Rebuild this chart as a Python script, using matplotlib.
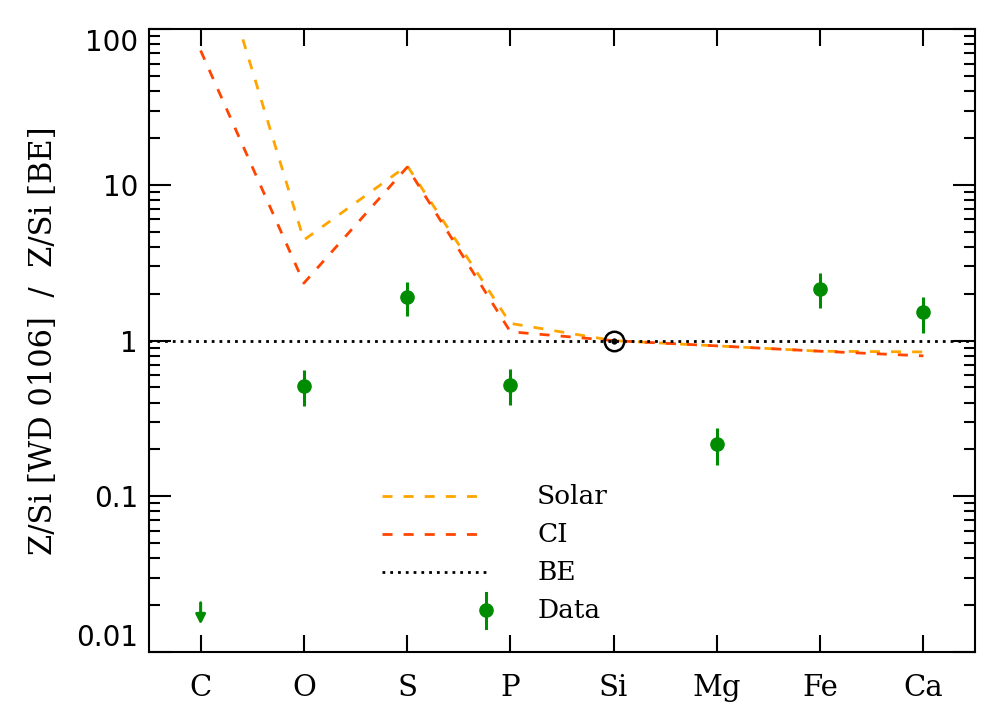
import numpy as np
import matplotlib
matplotlib.use("Agg")
import matplotlib.pyplot as plt
from matplotlib.ticker import LogLocator, FixedLocator, NullFormatter

# --- Data ---
elements = ["C", "O", "S", "P", "Si", "Mg", "Fe", "Ca"]
solar = [670, 4.43, 13.3, 1.29, 1.0, 0.925, 0.855, 0.846]
ci = [73, 2.34, 13.0, 1.14, 1.0, 0.925, 0.855, 0.798]

data_idx = [1, 2, 3, 5, 6, 7]
data_val = [0.514, 1.92, 0.522, 0.217, 2.16, 1.52]
data_hi = [0.65, 2.39, 0.658, 0.274, 2.71, 1.91]
data_lo = [0.38, 1.43, 0.386, 0.160, 1.61, 1.125]

c_limit = 0.0207    # upper limit for C
c_arrow = 0.0150    # arrow head
si_ref = 1.0

ORANGE = "#FFA500"
RED = "#FF4500"
GREEN = "#008C00"
SERIF = "DejaVu Serif"
DASH = (3.6, 4.0)
DOT = (1.0, 1.8)

x = np.arange(len(elements))

fig = plt.figure(figsize=(9.96, 7.12), dpi=100)
ax = fig.add_axes([0.1496, 0.0843, 0.8293, 0.8746])

# model lines
ax.plot(x, solar, color=ORANGE, lw=2.0, dashes=DASH)
ax.plot(x, ci, color=RED, lw=2.0, dashes=DASH)
ax.axhline(1.0, color="black", lw=2.0, dashes=DOT)

# data with error bars
dv = np.array(data_val)
yerr = [dv - np.array(data_lo), np.array(data_hi) - dv]
ax.errorbar(x[data_idx], dv, yerr=yerr, fmt="o", color=GREEN, ms=9.5,
            elinewidth=2.2, capsize=0, zorder=5)

# upper limit on C
ax.annotate("", xy=(x[0], c_arrow), xytext=(x[0], c_limit),
            arrowprops=dict(arrowstyle="-|>", color=GREEN, lw=2.2,
                            mutation_scale=14, shrinkA=0, shrinkB=0))

# Si reference (sun symbol)
ax.plot(x[4], si_ref, "o", ms=14, mfc="none", mec="black", mew=1.8, zorder=6)
ax.plot(x[4], si_ref, "o", ms=3.5, color="black", zorder=6)

ax.set_yscale("log")
ax.set_ylim(0.01, 100)
ax.set_xlim(-0.5, len(elements) - 0.5)

ax.xaxis.set_major_locator(FixedLocator(x))
ax.set_xticklabels(elements, fontsize=21, family=SERIF)
ax.yaxis.set_minor_locator(LogLocator(base=10, subs=np.arange(2, 10), numticks=10))
ax.yaxis.set_minor_formatter(NullFormatter())
ax.set_yticks([0.01, 0.1, 1, 10, 100])
ax.set_yticklabels(["0.01", "0.1", "1", "10", "100"], fontsize=20, family="DejaVu Sans")
ylabs = ax.get_yticklabels()
ylabs[0].set_va("bottom")
ylabs[-1].set_va("top")

ax.tick_params(axis="both", which="both", direction="in", top=True, right=True,
               width=1.5, color="black")
ax.tick_params(axis="y", which="major", length=16, pad=8)
ax.tick_params(axis="y", which="minor", length=8)
ax.tick_params(axis="x", which="major", length=12, pad=16)
for sp in ax.spines.values():
    sp.set_linewidth(1.5)

ax.set_ylabel("Z/Si [WD 0106]  /  Z/Si [BE]", fontsize=22, family=SERIF, labelpad=12)

# legend drawn by hand, IDL style
leg_x0, leg_x1, leg_tx = 0.282, 0.408, 0.470
leg_y = [0.250, 0.189, 0.128, 0.067]
tr = ax.transAxes
ax.plot([leg_x0, leg_x1], [leg_y[0]] * 2, transform=tr, color=ORANGE, lw=2.0, dashes=DASH)
ax.plot([leg_x0, leg_x1], [leg_y[1]] * 2, transform=tr, color=RED, lw=2.0, dashes=DASH)
ax.plot([leg_x0, leg_x1], [leg_y[2]] * 2, transform=tr, color="black", lw=2.0, dashes=DOT)
ax.plot([leg_x1, leg_x1], [leg_y[3] - 0.028, leg_y[3] + 0.028], transform=tr, color=GREEN, lw=2.2)
ax.plot([leg_x1], [leg_y[3]], "o", transform=tr, color=GREEN, ms=9.5)
for yy, lab in zip(leg_y, ["Solar", "CI", "BE", "Data"]):
    ax.text(leg_tx, yy, lab, transform=tr, fontsize=19, family=SERIF, va="center", ha="left")

fig.savefig("out.png", dpi=100)
